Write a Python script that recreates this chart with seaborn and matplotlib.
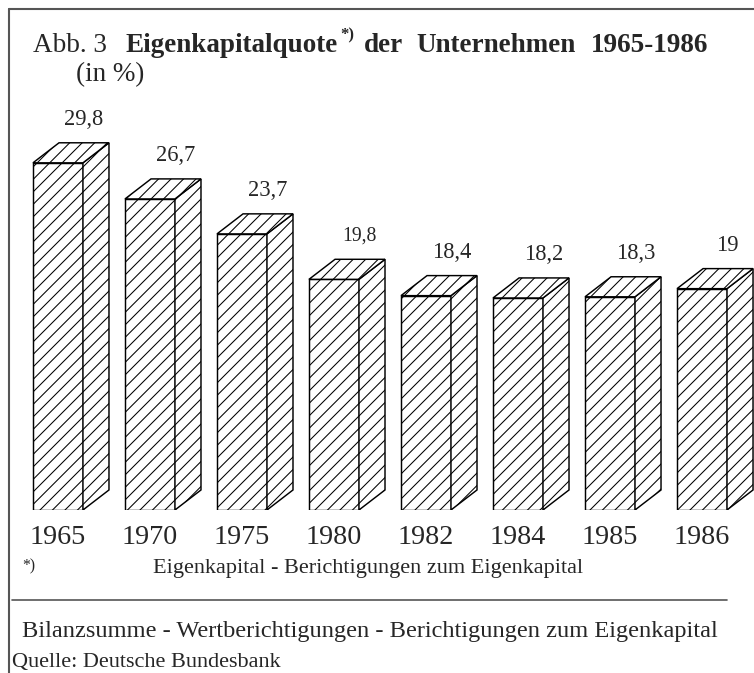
import matplotlib
matplotlib.use("Agg")
import matplotlib.pyplot as plt
import seaborn as sns
from matplotlib.patches import Polygon
from matplotlib.lines import Line2D

# Daten
jahre = ["1965", "1970", "1975", "1980", "1982", "1984", "1985", "1986"]
quote = [29.8, 26.7, 23.7, 19.8, 18.4, 18.2, 18.3, 19.0]
beschriftung = ["29,8", "26,7", "23,7", "19,8", "18,4", "18,2", "18,3", "19"]

sns.set_style("white")
plt.rcParams['font.family'] = ['Liberation Serif', 'DejaVu Serif']
plt.rcParams['hatch.linewidth'] = 0.5

W, H, DPI = 754, 673, 150
fig = plt.figure(figsize=(W / DPI, H / DPI), dpi=DPI)


def fx(x):
    return x / W


def fy(y):
    return 1 - y / H


# Achse: Grundlinie bei y=510 px
ax = fig.add_axes([0, fy(510), 1, 510 / H])
sns.barplot(x=jahre, y=quote, color="white", saturation=1, edgecolor="black",
            linewidth=0.7, hatch="////", width=0.543, ax=ax)

# 3D-Effekt (Seite und Deckel)
dx, dy = 0.283, 1.72
for p, lab in zip(ax.patches, beschriftung):
    x0, w, h = p.get_x(), p.get_width(), p.get_height()
    x1 = x0 + w
    seite = Polygon([(x1, 0), (x1 + dx, dy), (x1 + dx, h + dy), (x1, h)],
                    closed=True, facecolor="white", edgecolor="black",
                    linewidth=0.7, hatch="////")
    deckel = Polygon([(x0, h), (x0 + dx, h + dy), (x1 + dx, h + dy), (x1, h)],
                     closed=True, facecolor="white", edgecolor="black",
                     linewidth=0.7, hatch="////")
    ax.add_patch(seite)
    ax.add_patch(deckel)
    fs = 9.5 if lab == "19,8" else 10.8
    ax.text(x0 + w / 2 + 0.28, h + dy + 2.0, lab, ha="center", va="center",
            fontsize=fs)

ax.set_xlim(-0.630, 7.565)
ax.set_ylim(0, 510 / 11.65)
ax.set_frame_on(False)
ax.set_xlabel("")
ax.set_ylabel("")
ax.set_yticks([])
ax.tick_params(axis="x", length=0, pad=7, labelsize=13.5)

# Rahmen oben und links
fig.add_artist(Line2D([fx(9), fx(754)], [fy(9), fy(9)], color="#555555", lw=1.0))
fig.add_artist(Line2D([fx(9), fx(9)], [fy(9), fy(673)], color="#555555", lw=1.0))

# Titel
base = fy(52)
fs_t = 13
fig.text(fx(33), base, "Abb. 3", fontsize=fs_t, va="baseline")
fig.text(fx(126), base, "Eigenkapitalquote", fontsize=fs_t, fontweight="bold", va="baseline")
fig.text(fx(340), fy(39), "*)", fontsize=8, fontweight="bold", va="baseline")
fig.text(fx(364), base, "der", fontsize=fs_t, fontweight="bold", va="baseline")
fig.text(fx(416), base, "Unternehmen", fontsize=fs_t, fontweight="bold", va="baseline")
fig.text(fx(591), base, "1965-1986", fontsize=fs_t, fontweight="bold", va="baseline")
fig.text(fx(76), fy(81), "(in %)", fontsize=fs_t, va="baseline")

# Fußnote
fig.text(fx(22), fy(566), "*)", fontsize=7.5, va="center")
fig.text(fx(368), fy(568), "Eigenkapital - Berichtigungen zum Eigenkapital",
         fontsize=10.7, ha="center", va="center")
fig.add_artist(Line2D([fx(12), fx(727)], [fy(600), fy(600)], color="#555555", lw=0.8))
fig.text(fx(370), fy(631), "Bilanzsumme - Wertberichtigungen - Berichtigungen zum Eigenkapital",
         fontsize=11.7, ha="center", va="center")
fig.text(fx(12), fy(662), "Quelle: Deutsche Bundesbank", fontsize=10.7, va="center")

fig.savefig("out.png", dpi=DPI, facecolor="white")
